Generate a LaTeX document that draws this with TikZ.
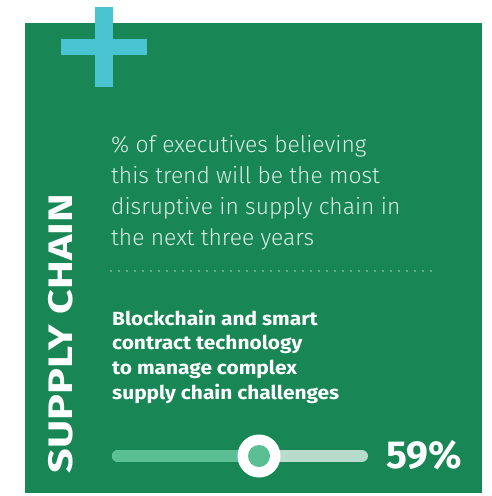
\documentclass[tikz,border=0pt]{standalone}
\usepackage{fontspec}
\setmainfont{Fira Sans}
\newfontfamily\lightfont{Fira Sans Light}
\newfontfamily\widebold[FakeStretch=1.1]{Fira Sans}
\newfontfamily\titlebold[FakeStretch=1.27]{Fira Sans}
\definecolor{bggreen}{HTML}{188755}
\definecolor{pluscyan}{HTML}{4BC4D2}
\definecolor{lighttext}{HTML}{DCEDE5}
\definecolor{trackfill}{HTML}{5BBF94}
\definecolor{trackrest}{HTML}{B8DCCB}
\definecolor{dotcol}{HTML}{A9D3BF}
\begin{document}
\begin{tikzpicture}[x=1pt,y=-1pt,
  lighttxt/.style={text=lighttext,anchor=base west,inner sep=0pt,font=\lightfont\fontsize{22.8}{31}\selectfont,align=left},
  boldtxt/.style={text=white,anchor=base west,inner sep=0pt,font=\widebold\fontsize{19}{24.6}\selectfont\bfseries,align=left}]
\useasboundingbox (0,0) rectangle (491,496);
\fill[bggreen] (25,23) rectangle (482,493);
% plus
\fill[pluscyan] (95,7) rectangle (113,87);
\fill[pluscyan] (61,39) rectangle (147,55);
% vertical title
\node[text=white,rotate=90,inner sep=0pt,font=\titlebold\fontsize{34}{34}\selectfont\bfseries] (title) at (61,333.5) {SUPPLY CHAIN};
% description (anchor on last baseline)
\node[lighttxt] (desc) at (111,245) {\% of executives believing\\this trend will be the most\\disruptive in supply chain in\\the next three years};
% dotted line
\coordinate (dl) at (111,271);
\coordinate (dr) at (433,271);
\draw[dotcol,line width=1.8pt,line cap=round,dash pattern=on 0pt off 8pt] (dl) -- (dr);
% trend text
\node[boldtxt] (trend) at (112,399) {Blockchain and smart\\contract technology\\to manage complex\\supply chain challenges};
% slider
\coordinate (ts) at (112,456);
\coordinate (te) at (368,456);
\coordinate (knob) at (259,456);
\draw[trackrest,line width=12pt,line cap=round] ([xshift=6pt]ts) -- ([xshift=-6pt]te);
\draw[trackfill,line width=12pt,line cap=round] ([xshift=6pt]ts) -- (knob);
\fill[white] (knob) circle (21.5);
\fill[trackfill] (knob) circle (11);
\node[text=white,anchor=base west,inner sep=0pt,font=\fontsize{39}{39}\selectfont\bfseries] (pct) at (386,468) {59\%};
\end{tikzpicture}
\end{document}
